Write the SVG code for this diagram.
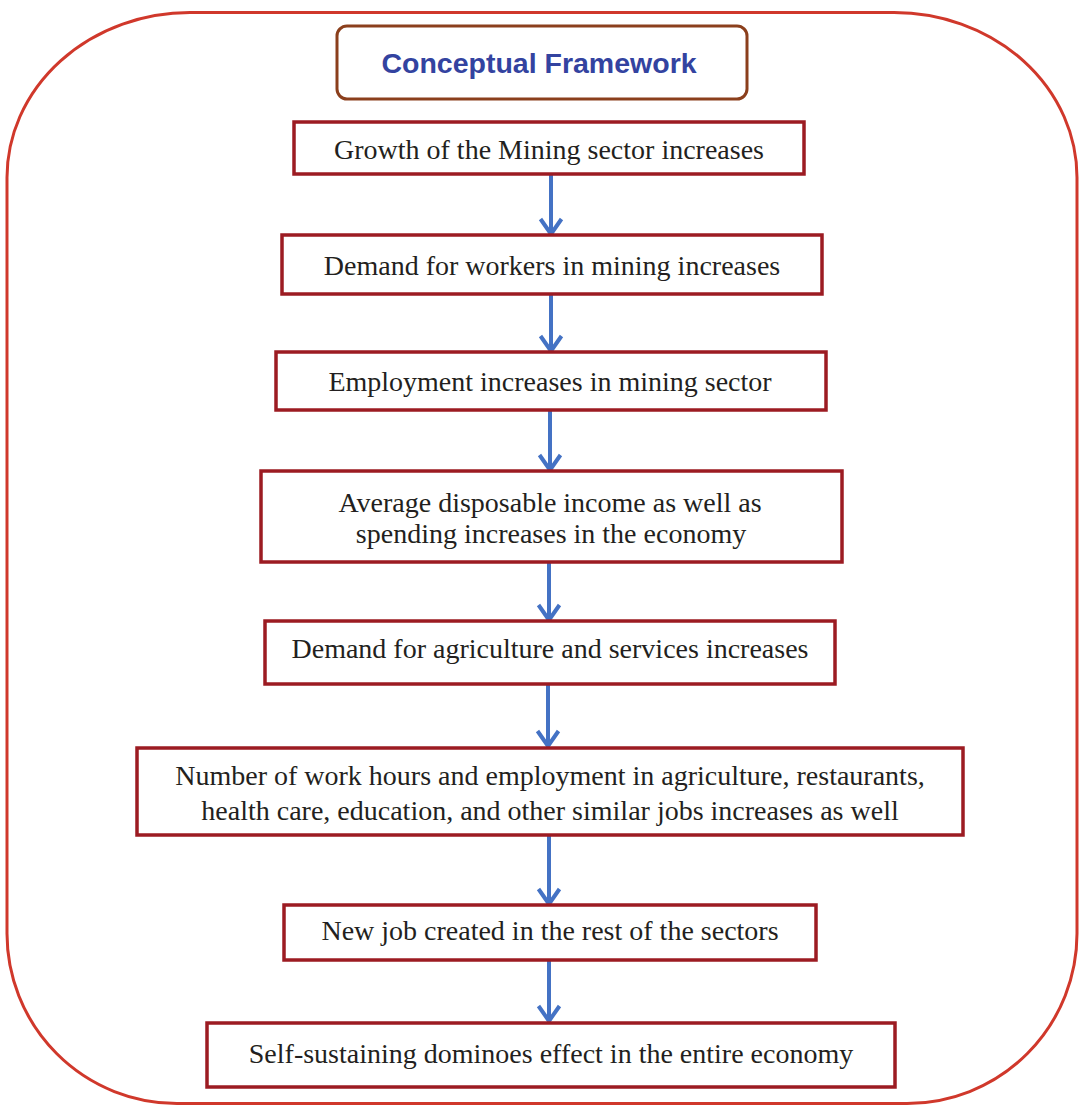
<svg xmlns="http://www.w3.org/2000/svg" width="1079" height="1106" viewBox="0 0 1079 1106">
<defs>
<style>
.frame{fill:none;stroke:#d0382b;stroke-width:3}
.title{fill:#fff;stroke:#8b3f1c;stroke-width:3}
.tt{font-family:"Liberation Sans",Arial,sans-serif;font-weight:bold;font-size:28.5px;fill:#3343a0;text-anchor:middle}
.box{fill:#fff;stroke:#9c1b22;stroke-width:3.5}
.lbl{font-family:"Liberation Serif","Times New Roman",serif;font-size:28px;fill:#231f20;text-anchor:middle}
.arr{fill:none;stroke:#4472c4;stroke-width:4}
.head{fill:none;stroke:#4472c4;stroke-width:4;stroke-linejoin:round}
</style>
</defs>
<rect width="1079" height="1106" fill="#fff"/>
<path class="frame" d="M190,12.5 H894 A183,165 0 0 1 1077,177.5 V933 A170,170 0 0 1 907,1103.5 H177 A170,170 0 0 1 7,933 V177.5 A183,165 0 0 1 190,12.5 Z"/>
<g id="title">
<rect class="title" x="337" y="26" width="410" height="73" rx="10"/>
<text class="tt" x="539" y="73">Conceptual Framework</text>
</g>
<g id="connectors">
<path class="arr" d="M551,174 V233"/><path class="head" d="M540.5,219 L551,234 L561.5,219"/>
<path class="arr" d="M551,294 V350"/><path class="head" d="M540.5,336 L551,351 L561.5,336"/>
<path class="arr" d="M550,410 V469"/><path class="head" d="M539.5,455 L550,470 L560.5,455"/>
<path class="arr" d="M549,562 V619"/><path class="head" d="M538.5,605 L549,620 L559.5,605"/>
<path class="arr" d="M548,684 V745"/><path class="head" d="M537.5,731 L548,746 L558.5,731"/>
<path class="arr" d="M549,835 V903"/><path class="head" d="M538.5,889 L549,904 L559.5,889"/>
<path class="arr" d="M549,960 V1020"/><path class="head" d="M538.5,1006 L549,1021 L559.5,1006"/>
</g>
<g id="n1">
<rect class="box" x="294" y="122" width="510" height="52"/>
<text class="lbl" x="549" y="159">Growth of the Mining sector increases</text>
</g>
<g id="n2">
<rect class="box" x="282" y="235" width="540" height="59"/>
<text class="lbl" x="552" y="275">Demand for workers in mining increases</text>
</g>
<g id="n3">
<rect class="box" x="276" y="352" width="550" height="58"/>
<text class="lbl" x="550" y="391">Employment increases in mining sector</text>
</g>
<g id="n4">
<rect class="box" x="261" y="471" width="581" height="91"/>
<text class="lbl" x="550" y="512">Average disposable income as well as</text>
<text class="lbl" x="551" y="543">spending increases in the economy</text>
</g>
<g id="n5">
<rect class="box" x="265" y="621" width="570" height="63"/>
<text class="lbl" x="550" y="658">Demand for agriculture and services increases</text>
</g>
<g id="n6">
<rect class="box" x="137" y="748" width="826" height="87"/>
<text class="lbl" x="550" y="785">Number of work hours and employment in agriculture, restaurants,</text>
<text class="lbl" x="550" y="820">health care, education, and other similar jobs increases as well</text>
</g>
<g id="n7">
<rect class="box" x="284" y="905" width="532" height="55"/>
<text class="lbl" x="550" y="940">New job created in the rest of the sectors</text>
</g>
<g id="n8">
<rect class="box" x="207" y="1023" width="688" height="64"/>
<text class="lbl" x="551" y="1063">Self-sustaining dominoes effect in the entire economy</text>
</g>
</svg>
